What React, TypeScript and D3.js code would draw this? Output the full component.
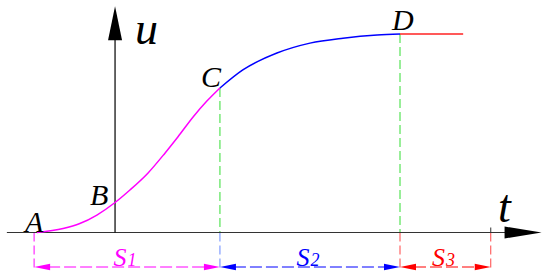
import * as d3 from 'd3';

// curve samples (t, u); A at t=0, D at t=100
const riseT = [0, 7.2, 11.8, 16.5, 21.5, 25.6, 30.6, 35.3, 38.8, 43, 46.8, 50.4];
const riseU = [0, 2, 4.5, 8.8, 15.1, 21.4, 30, 40.1, 48.1, 58.2, 66.2, 72.8];
const bendT = [50.4, 56.7, 66.1, 75.2, 84.3, 93.7, 100];
const bendU = [72.8, 81.9, 90.4, 95.4, 97.9, 99.5, 100];
const flatT = [100, 117.4];
const flatU = [100, 100];

const pointNames = ['A', 'B', 'C', 'D'];
const pointT = [0, 21.5, 50.4, 100];
const pointU = [0, 15.1, 72.8, 100];

// dimension stops under the time axis and their labels
const dimStops = [-0.8, 50.4, 100, 125];
const dimNames = ['1', '2', '3'];
const dimColors = ['#ff00ff', '#0000ff', '#ff0000'];

const tAxisRange = [-8.3, 139];
const uAxisRange = [0, 114];
const uAxisAt = 21.5;

const W = 550, H = 276;

export default function App() {
  const x = d3.scaleLinear().domain([0, 100]).range([37, 400]);
  const y = d3.scaleLinear().domain([0, 100]).range([232.5, 34]);
  const line = d3.line<[number, number]>()
    .x(d => x(d[0])).y(d => y(d[1]))
    .curve(d3.curveMonotoneX);
  const zip = (ts: number[], us: number[]) => ts.map((t, i) => [t, us[i]] as [number, number]);

  const y0 = y(0);
  const dimY = 267;
  const ux = x(uAxisAt);
  const axEnd = x(tAxisRange[1]);
  const uTop = y(uAxisRange[1]);
  const font = 'Liberation Serif, DejaVu Serif, serif';

  const labelOff: Record<string, [number, number]> = {
    A: [-12, -1], B: [-25, 2.5], C: [-19, -1], D: [-8, -4],
  };

  return (
    <svg width={W} height={H} style={{ position: 'absolute', left: 0, top: 0, background: '#fff' }}>
      {/* extension lines above axis */}
      {[2, 3].map(i => (
        <line key={'g' + i} x1={x(pointT[i])} x2={x(pointT[i])} y1={y(pointU[i])} y2={y0}
          stroke="#33dd33" strokeWidth={1} strokeDasharray="9,4" />
      ))}
      {/* extension lines below axis */}
      {dimStops.map((t, i) => (
        <line key={'e' + i} x1={x(t)} x2={x(t)} y1={y0} y2={dimY + 3}
          stroke={i === 0 ? '#ff00ff' : i === 1 ? '#6688ff' : '#ff4444'} strokeWidth={1} strokeDasharray="9,4" />
      ))}
      <line x1={x(125)} x2={x(125)} y1={y0 - 5} y2={y0} stroke="#333" strokeWidth={1} />

      {/* axes */}
      <line x1={x(tAxisRange[0])} x2={axEnd - 36} y1={y0} y2={y0} stroke="#333" strokeWidth={1.2} />
      <path d={`M${axEnd},${y0} L${axEnd - 37},${y0 - 6} L${axEnd - 37},${y0 + 6} Z`} fill="#000" />
      <line x1={ux} x2={ux} y1={y0} y2={uTop + 33} stroke="#000" strokeWidth={1.2} />
      <path d={`M${ux},${uTop} L${ux - 7},${uTop + 34} L${ux + 7},${uTop + 34} Z`} fill="#000" />
      <text x={ux + 20} y={44} fontFamily={font} fontStyle="italic" fontSize={46} fill="#000">u</text>
      <text x={498} y={222} fontFamily={font} fontStyle="italic" fontSize={46} fill="#000">t</text>

      {/* curve */}
      <path d={line(zip(riseT, riseU)) ?? ''} fill="none" stroke="#ff00ff" strokeWidth={1.5} />
      <path d={line(zip(bendT, bendU)) ?? ''} fill="none" stroke="#0000ff" strokeWidth={1.5} />
      <path d={line(zip(flatT, flatU)) ?? ''} fill="none" stroke="#ff2222" strokeWidth={1.5} />

      {pointNames.map((n, i) => (
        <text key={n} x={x(pointT[i]) + labelOff[n][0]} y={y(pointU[i]) + labelOff[n][1]}
          fontFamily={font} fontStyle="italic" fontSize={30} fill="#000">{n}</text>
      ))}

      {/* dimension lines */}
      {dimNames.map((n, i) => {
        const a = x(dimStops[i]), b = x(dimStops[i + 1]);
        const c = dimColors[i];
        return (
          <g key={'d' + n}>
            <line x1={a + 14} x2={b - 14} y1={dimY} y2={dimY} stroke={c} strokeWidth={1} strokeDasharray="12,4" />
            <path d={`M${a},${dimY} L${a + 16},${dimY - 3.3} L${a + 16},${dimY + 3.3} Z`} fill={c} />
            <path d={`M${b},${dimY} L${b - 16},${dimY - 3.3} L${b - 16},${dimY + 3.3} Z`} fill={c} />
            <text x={(a + b) / 2 - 2} y={dimY - 1} textAnchor="middle" fontFamily={font} fontStyle="italic" fontSize={26} fill={c}>
              S<tspan fontSize={18} dx={1}>{n}</tspan>
            </text>
          </g>
        );
      })}
    </svg>
  );
}
